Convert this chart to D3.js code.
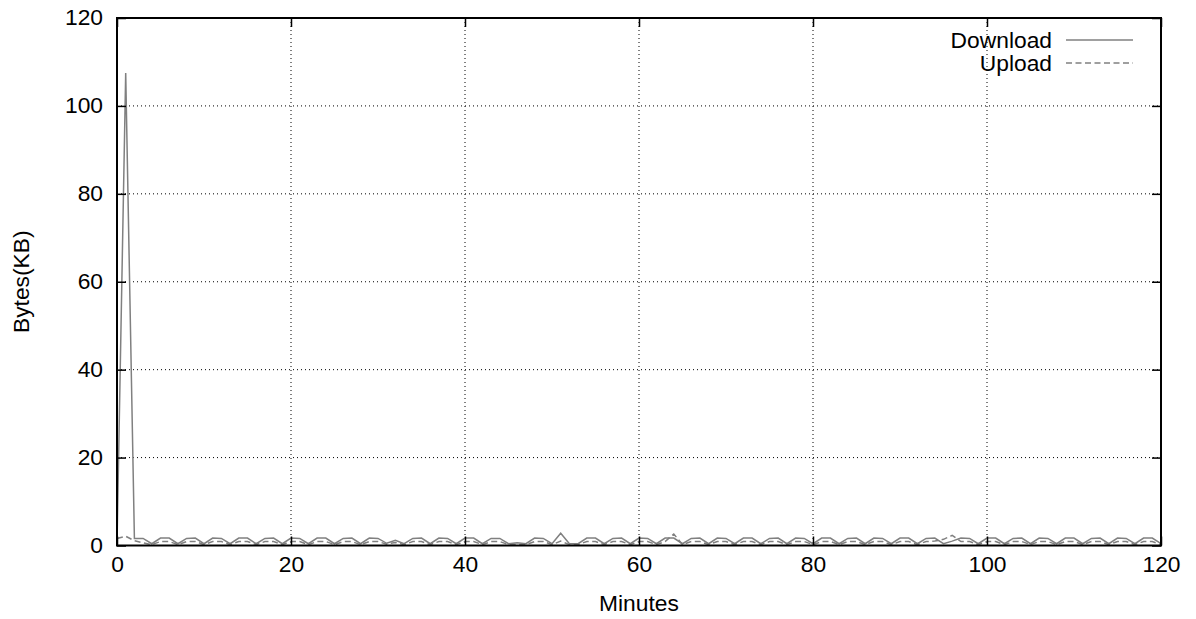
<!DOCTYPE html>
<html>
<head>
<meta charset="utf-8">
<script src="https://cdn.jsdelivr.net/npm/d3@7/dist/d3.min.js"></script>
<style>
  html, body { margin: 0; padding: 0; background: #fff; }
  svg { display: block; }
  text { font-family: "Liberation Sans", Arial, sans-serif; fill: #000; }
</style>
</head>
<body>
<svg id="chart" width="1196" height="619"></svg>
<script>
// Traffic samples, one per minute (KB)
const minutes = d3.range(0, 121);
const download = [
  0.3, 107.5, 1.6, 1.6, 0.4, 1.7, 1.7, 0.4, 1.6, 1.7,
  0.4, 1.7, 1.6, 0.4, 1.7, 1.7, 0.4, 1.6, 1.7, 0.4,
  1.7, 1.6, 0.4, 1.7, 1.7, 0.4, 1.6, 1.7, 0.4, 1.7,
  1.6, 0.5, 1.2, 0.4, 1.6, 1.7, 0.4, 1.7, 1.6, 0.4,
  1.7, 1.7, 0.4, 1.6, 1.6, 0.4, 0.6, 0.4, 1.7, 1.6,
  0.4, 2.8, 0.4, 0.4, 1.7, 1.7, 0.4, 1.6, 1.7, 0.4,
  1.7, 1.6, 0.4, 1.7, 1.7, 0.4, 1.6, 1.7, 0.4, 1.7,
  1.6, 0.4, 1.7, 1.7, 0.4, 1.6, 1.7, 0.4, 1.7, 1.6,
  0.4, 1.7, 1.7, 0.4, 1.6, 1.7, 0.4, 1.7, 1.6, 0.4,
  1.7, 1.7, 0.4, 1.6, 1.7, 0.4, 1.0, 1.7, 1.6, 0.4,
  1.7, 1.7, 0.4, 1.6, 1.7, 0.4, 1.7, 1.6, 0.4, 1.7,
  1.7, 0.4, 1.6, 1.7, 0.4, 1.7, 1.6, 0.4, 1.7, 1.7,
  0.4
];
const upload = [
  1.6, 2.1, 1.1, 0.6, 0.2, 0.9, 0.9, 0.2, 0.9, 0.9,
  0.2, 0.9, 0.9, 0.2, 0.9, 0.9, 0.2, 0.9, 0.9, 0.2,
  0.9, 0.9, 0.2, 0.9, 0.9, 0.2, 0.9, 0.9, 0.2, 0.9,
  0.9, 0.3, 0.7, 0.2, 0.9, 0.9, 0.2, 0.9, 0.9, 0.2,
  0.9, 0.9, 0.2, 0.9, 0.9, 0.2, 0.3, 0.2, 0.9, 0.9,
  0.2, 1.0, 0.2, 0.2, 0.9, 0.9, 0.2, 0.9, 0.9, 0.2,
  0.9, 0.9, 0.2, 0.9, 2.6, 0.2, 0.9, 0.9, 0.2, 0.9,
  0.9, 0.2, 0.9, 0.9, 0.2, 0.9, 0.9, 0.2, 0.9, 0.9,
  0.2, 0.9, 0.9, 0.2, 0.9, 0.9, 0.2, 0.9, 0.9, 0.2,
  0.9, 0.9, 0.2, 0.9, 1.0, 1.4, 2.3, 0.9, 0.9, 0.2,
  0.9, 0.9, 0.2, 0.9, 0.9, 0.2, 0.9, 0.9, 0.2, 0.9,
  0.9, 0.2, 0.9, 0.9, 0.2, 0.9, 0.9, 0.2, 0.9, 0.9,
  0.2
];
const xTicks = [0, 20, 40, 60, 80, 100, 120];
const yTicks = [0, 20, 40, 60, 80, 100, 120];
const seriesNames = ["Download", "Upload"];

const svg = d3.select("#chart");
const margin = { left: 117, top: 18, right: 1161, bottom: 545.5 };
const x = d3.scaleLinear().domain([0, 120]).range([margin.left, margin.right]);
const y = d3.scaleLinear().domain([0, 120]).range([margin.bottom, margin.top]);
const fontSize = 21.5;
const textStretch = 1.06;

// dotted grid
const grid = svg.append("g");
grid.selectAll(".gx").data(xTicks.slice(1, -1)).join("line")
  .attr("x1", d => x(d)).attr("x2", d => x(d))
  .attr("y1", margin.top).attr("y2", margin.bottom)
  .attr("stroke", "#000").attr("stroke-width", 1).attr("stroke-dasharray", "1,3");
grid.selectAll(".gy").data(yTicks.slice(1, -1)).join("line")
  .attr("y1", d => y(d)).attr("y2", d => y(d))
  .attr("x1", margin.left).attr("x2", margin.right)
  .attr("stroke", "#000").attr("stroke-width", 1).attr("stroke-dasharray", "1,3");

// series
const line = d3.line().x((d, i) => x(minutes[i])).y(d => y(d));
svg.append("path").datum(download).attr("d", line)
  .attr("fill", "none").attr("stroke", "#808080").attr("stroke-width", 1.5);
svg.append("path").datum(upload).attr("d", line)
  .attr("fill", "none").attr("stroke", "#808080").attr("stroke-width", 1.5)
  .attr("stroke-dasharray", "6,3.5");

// axes (inward ticks, mirrored)
const tickLen = 9;
const axB = svg.append("g").attr("transform", `translate(0,${margin.bottom})`)
  .call(d3.axisBottom(x).tickValues(xTicks).tickSize(-tickLen).tickPadding(11).tickFormat(d3.format("d")));
const axT = svg.append("g").attr("transform", `translate(0,${margin.top})`)
  .call(d3.axisTop(x).tickValues(xTicks).tickSize(-tickLen).tickFormat(""));
const axL = svg.append("g").attr("transform", `translate(${margin.left},0)`)
  .call(d3.axisLeft(y).tickValues(yTicks).tickSize(-tickLen).tickPadding(14).tickFormat(d3.format("d")));
const axR = svg.append("g").attr("transform", `translate(${margin.right},0)`)
  .call(d3.axisRight(y).tickValues(yTicks).tickSize(-tickLen).tickFormat(""));
[axB, axT, axL, axR].forEach(a => {
  a.select(".domain").remove();
  a.selectAll(".tick line").attr("stroke", "#000").attr("stroke-width", 1.5);
  a.selectAll(".tick text").attr("font-size", fontSize).attr("font-family", "Liberation Sans, Arial, sans-serif").attr("fill", "#000");
});

// frame
svg.append("rect")
  .attr("x", margin.left).attr("y", margin.top)
  .attr("width", margin.right - margin.left).attr("height", margin.bottom - margin.top)
  .attr("fill", "none").attr("stroke", "#000").attr("stroke-width", 2);

// axis titles
svg.append("text").attr("x", (margin.left + margin.right) / 2).attr("y", 611)
  .attr("text-anchor", "middle").attr("font-size", fontSize).text("Minutes");
svg.append("text").attr("transform", `translate(29,${(margin.top + margin.bottom) / 2}) rotate(-90)`)
  .attr("text-anchor", "middle").attr("font-size", fontSize).text("Bytes(KB)");

// legend
const legend = svg.append("g");
seriesNames.forEach((name, i) => {
  const ly = 40 + i * 23;
  legend.append("text").attr("x", 1052).attr("y", ly).attr("dy", "0.35em")
    .attr("text-anchor", "end").attr("font-size", fontSize).text(name);
  legend.append("line").attr("x1", 1066).attr("x2", 1133).attr("y1", ly).attr("y2", ly)
    .attr("stroke", "#808080").attr("stroke-width", 1.5)
    .attr("stroke-dasharray", i === 1 ? "6,3.5" : null);
});

// widen glyphs slightly to the broader face used by the labels
svg.selectAll("text").each(function () {
  const w = this.getComputedTextLength();
  if (w > 0) d3.select(this).attr("textLength", w * textStretch).attr("lengthAdjust", "spacingAndGlyphs");
});
</script>
</body>
</html>
